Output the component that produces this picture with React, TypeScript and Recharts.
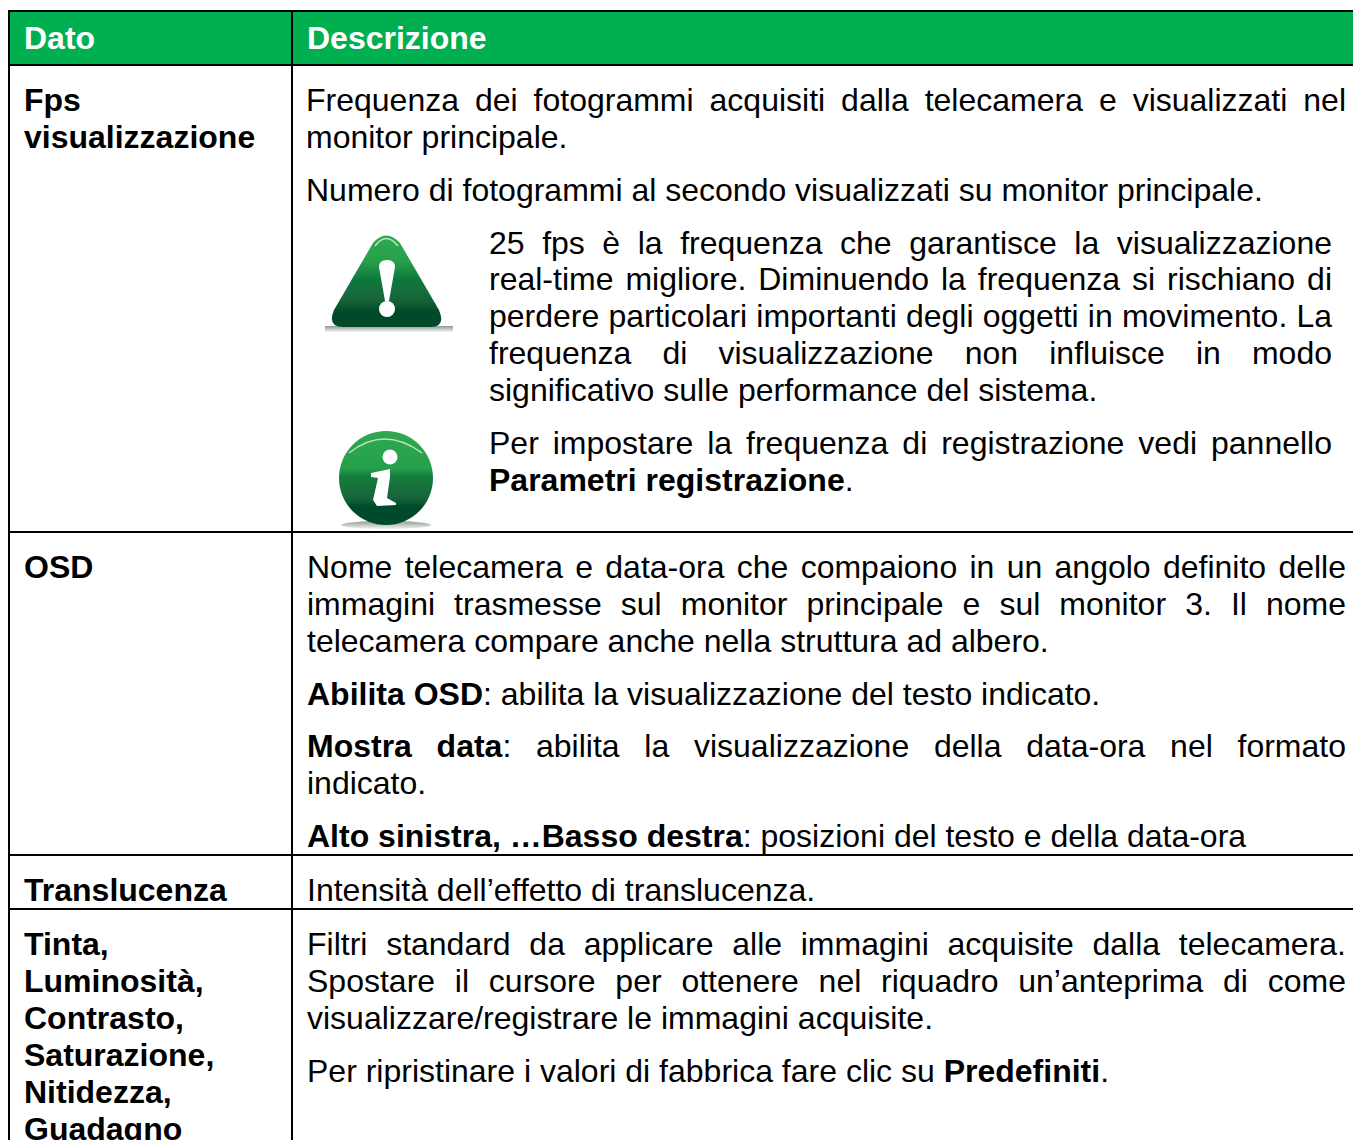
import { ScatterChart, Scatter, XAxis, YAxis, ReferenceLine, ReferenceArea } from "recharts";

const WIDTH = 1353;
const HEIGHT = 1140;
const FONT = '"Liberation Sans", Arial, sans-serif';
const FONT_SIZE = 32;

const headerLabels = ["Dato", "Descrizione"];
const headerLefts = [24, 307];
const headerBaseline = 49;

const rowLabels = [
  "Fps",
  "visualizzazione",
  "OSD",
  "Translucenza",
  "Tinta,",
  "Luminosità,",
  "Contrasto,",
  "Saturazione,",
  "Nitidezza,",
  "Guadagno",
];
const rowLabelBaselines = [111, 148, 578, 901, 955, 992, 1029, 1066, 1103, 1140];

// **...** marks the bold runs
const descriptionLines = [
  "Frequenza dei fotogrammi acquisiti dalla telecamera e visualizzati nel",
  "monitor principale.",
  "Numero di fotogrammi al secondo visualizzati su monitor principale.",
  "25 fps è la frequenza che garantisce la visualizzazione",
  "real-time migliore. Diminuendo la frequenza si rischiano di",
  "perdere particolari importanti degli oggetti in movimento. La",
  "frequenza di visualizzazione non influisce in modo",
  "significativo sulle performance del sistema.",
  "Per impostare la frequenza di registrazione vedi pannello",
  "**Parametri registrazione**.",
  "Nome telecamera e data-ora che compaiono in un angolo definito delle",
  "immagini trasmesse sul monitor principale e sul monitor 3. Il nome",
  "telecamera compare anche nella struttura ad albero.",
  "**Abilita OSD**: abilita la visualizzazione del testo indicato.",
  "**Mostra data**: abilita la visualizzazione della data-ora nel formato",
  "indicato.",
  "**Alto sinistra, …Basso destra**: posizioni del testo e della data-ora",
  "Intensità dell’effetto di translucenza.",
  "Filtri standard da applicare alle immagini acquisite dalla telecamera.",
  "Spostare il cursore per ottenere nel riquadro un’anteprima di come",
  "visualizzare/registrare le immagini acquisite.",
  "Per ripristinare i valori di fabbrica fare clic su **Predefiniti**.",
];
const descriptionBaselines = [
  111, 148, 201, 254, 290, 327, 364, 401, 454, 491, 578, 615, 652, 705, 757, 794, 847, 901, 955, 992, 1029, 1082,
];
const descriptionLefts = [
  306, 306, 306, 489, 489, 489, 489, 489, 489, 489, 307, 307, 307, 307, 307, 307, 307, 307, 307, 307, 307, 307,
];
// right edge of justified lines, 0 = left aligned
const descriptionRights = [
  1346, 0, 0, 1332, 1332, 1332, 1332, 0, 1332, 0, 1346, 1346, 0, 0, 1346, 0, 0, 0, 1346, 1346, 0, 0,
];

const horizontalRules = [11, 65, 532, 855, 909];
const verticalRules = [9, 292];
const headerBand = [11, 65];
const iconKinds = ["warning", "info"];
const iconCentersX = [387, 386];
const iconCentersY = [281, 478];

const textPoints = [
  ...headerLabels.map((text, i) => ({ x: headerLefts[i], y: headerBaseline, text, right: 0, kind: "header" })),
  ...rowLabels.map((text, i) => ({ x: 24, y: rowLabelBaselines[i], text, right: 0, kind: "label" })),
  ...descriptionLines.map((text, i) => ({
    x: descriptionLefts[i],
    y: descriptionBaselines[i],
    text,
    right: descriptionRights[i],
    kind: "body",
  })),
];
const iconPoints = iconKinds.map((kind, i) => ({ x: iconCentersX[i], y: iconCentersY[i], kind }));

const measureCtx = document.createElement("canvas").getContext("2d");

function splitRuns(text: string, allBold: boolean) {
  return text
    .split("**")
    .map((t, i) => ({ t, bold: allBold || i % 2 === 1 }))
    .filter((r) => r.t.length > 0);
}

function runsWidth(runs: { t: string; bold: boolean }[]) {
  let w = 0;
  runs.forEach((r) => {
    measureCtx!.font = `${r.bold ? "bold " : ""}${FONT_SIZE}px ${FONT}`;
    w += measureCtx!.measureText(r.t).width;
  });
  return w;
}

const TextLine = (props: any) => {
  const { cx, cy, payload } = props;
  const isBody = payload.kind === "body";
  const runs = splitRuns(payload.text, !isBody);
  let wordSpacing = 0;
  if (payload.right > 0) {
    const gaps = payload.text.split(" ").length - 1;
    wordSpacing = (payload.right - payload.x - runsWidth(runs)) / gaps;
  }
  return (
    <text
      x={cx}
      y={cy}
      fontFamily={FONT}
      fontSize={FONT_SIZE}
      fill={payload.kind === "header" ? "#ffffff" : "#000000"}
      style={{ wordSpacing, whiteSpace: "pre" }}
    >
      {runs.map((r, i) => (
        <tspan key={i} fontWeight={r.bold ? 700 : 400}>
          {r.t}
        </tspan>
      ))}
    </text>
  );
};

const Icon = (props: any) => {
  const { cx, cy, payload } = props;
  if (payload.kind === "warning") {
    return (
      <g transform={`translate(${cx} ${cy})`} filter="url(#iconSoft)">
        <defs>
          <filter id="iconSoft" x="-20%" y="-20%" width="140%" height="140%">
            <feGaussianBlur stdDeviation="0.5" />
          </filter>
          <linearGradient id="warnFill" x1="0" y1="0" x2="0" y2="1">
            <stop offset="0%" stopColor="#2fa950" />
            <stop offset="28%" stopColor="#27a04c" />
            <stop offset="47%" stopColor="#0f7a3e" />
            <stop offset="70%" stopColor="#17643a" />
            <stop offset="84%" stopColor="#014a2a" />
            <stop offset="100%" stopColor="#014a2a" />
          </linearGradient>
          <linearGradient id="warnShadow" x1="0" y1="0" x2="0" y2="1">
            <stop offset="0%" stopColor="#8f9a94" />
            <stop offset="100%" stopColor="#f4f4f4" />
          </linearGradient>
        </defs>
        <rect x={-62} y={45} width={128} height={6} fill="url(#warnShadow)" />
        <path
          d="M-14,-38 Q-1,-53 13,-38 L52,29 Q59,46 44,46 L-44,46 Q-60,46 -53,29 Z"
          fill="url(#warnFill)"
        />
        <path d="M-12,-35 Q-1,-50 11,-35" fill="none" stroke="#bfe2c6" strokeWidth={1.5} />
        <path d="M-8,-14 Q-8,-21 0,-21 Q8,-21 8,-14 L2,20 L-2,20 Z" fill="#ffffff" />
        <circle cx={0} cy={28} r={8} fill="#ffffff" />
      </g>
    );
  }
  return (
    <g transform={`translate(${cx} ${cy})`} filter="url(#iconSoft)">
      <defs>
        <linearGradient id="infoFill" x1="0" y1="0" x2="0" y2="1">
          <stop offset="0%" stopColor="#2fa950" />
          <stop offset="40%" stopColor="#27a04c" />
          <stop offset="48%" stopColor="#167d3c" />
          <stop offset="72%" stopColor="#17643a" />
          <stop offset="80%" stopColor="#014a2a" />
          <stop offset="100%" stopColor="#014a2a" />
        </linearGradient>
        <linearGradient id="infoShadow" x1="0" y1="0" x2="0" y2="1">
          <stop offset="0%" stopColor="#8f9a94" />
          <stop offset="100%" stopColor="#f4f4f4" />
        </linearGradient>
      </defs>
      <ellipse cx={0} cy={47} rx={45} ry={4} fill="url(#infoShadow)" />
      <circle cx={0} cy={0} r={47} fill="url(#infoFill)" />
      <path d="M-37,-25 Q-2,-53 36,-25" fill="none" stroke="#bfe2c6" strokeWidth={1.5} />
      <circle cx={4} cy={-21} r={7.5} fill="#ffffff" />
      <path d="M-15,-5 L4,-9 L4,-1 L1,20 L10,25 L10,27 L-9,28 L-13,22 L-8,0 L-15,-1 Z" fill="#ffffff" />
    </g>
  );
};

export default function App() {
  return (
    <div style={{ position: "absolute", left: 0, top: 0, width: WIDTH, height: HEIGHT, background: "#fff" }}>
      <ScatterChart width={WIDTH} height={HEIGHT} margin={{ top: 0, right: 0, bottom: 0, left: 0 }}>
        <XAxis type="number" dataKey="x" domain={[0, WIDTH]} hide />
        <YAxis type="number" dataKey="y" domain={[0, HEIGHT]} reversed hide />
        <ReferenceArea x1={9} x2={WIDTH} y1={headerBand[0]} y2={headerBand[1]} fill="#00b050" fillOpacity={1} stroke="none" />
        {horizontalRules.map((y) => (
          <ReferenceLine
            key={y}
            segment={[
              { x: 8, y },
              { x: WIDTH, y },
            ]}
            stroke="#000000"
            strokeWidth={2}
          />
        ))}
        {verticalRules.map((x) => (
          <ReferenceLine
            key={x}
            segment={[
              { x, y: 10 },
              { x, y: HEIGHT },
            ]}
            stroke="#000000"
            strokeWidth={2}
          />
        ))}
        <Scatter data={iconPoints} shape={Icon} isAnimationActive={false} />
        <Scatter data={textPoints} shape={TextLine} isAnimationActive={false} />
      </ScatterChart>
    </div>
  );
}
